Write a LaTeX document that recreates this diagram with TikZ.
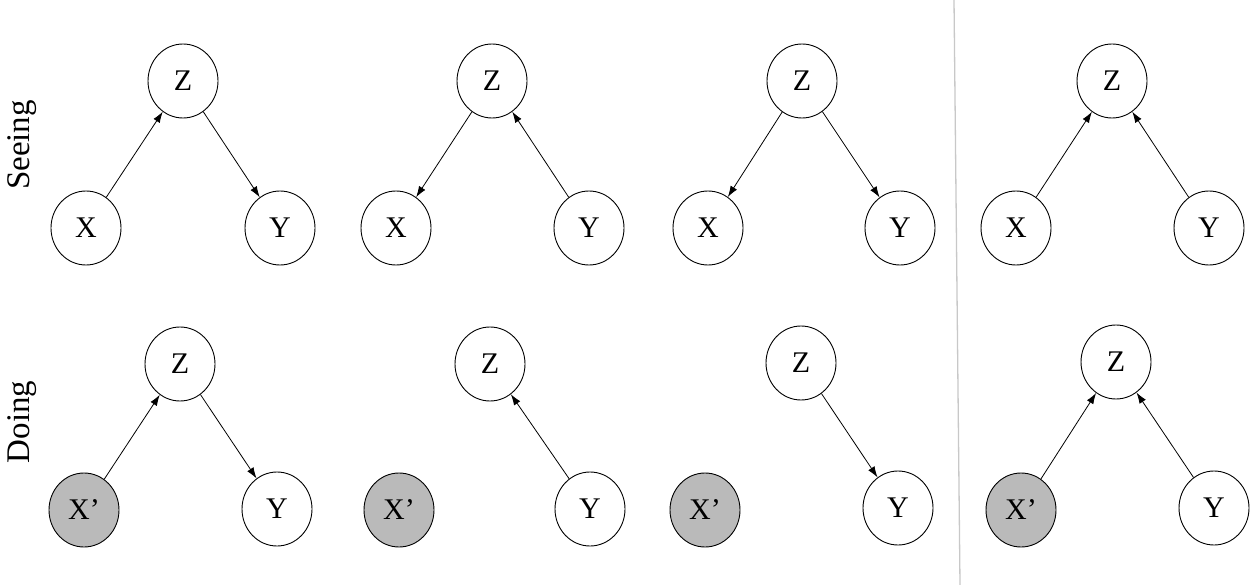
\documentclass[tikz,border=0pt]{standalone}
\usepackage{fontspec}
\setmainfont{Liberation Serif}
\usetikzlibrary{shapes.geometric,arrows.meta}
\definecolor{shade}{RGB}{186,186,186}
\definecolor{sepcol}{RGB}{200,200,200}
\begin{document}
\begin{tikzpicture}[x=1pt,y=-1pt,
  var/.style={ellipse,draw,line width=0.9pt,minimum width=70pt,minimum height=74pt,inner sep=0pt,font=\fontsize{30}{30}\selectfont},
  fixed/.style={var,fill=shade},
  edge/.style={line width=0.8pt,-{Latex[length=11pt,width=7.5pt]}},
  rowlabel/.style={rotate=90,font=\fontsize{33}{33}\selectfont},
  sepline/.style={draw=sepcol,line width=1.3pt}]
\useasboundingbox (0,0) rectangle (1260,585);

% row labels
\node[rowlabel] (seeing) at (22,145) {Seeing};
\node[rowlabel] (doing) at (22,422) {Doing};

% separator
\coordinate (s1) at (954,0);
\coordinate (s2) at (960,585);
\draw[sepline] (s1) -- (s2);

% ---- top row ----
\node[var] (z1) at (183,81) {Z};
\node[var] (x1) at (86,228) {X};
\node[var] (y1) at (280,228) {Y};
\draw[edge] (x1) -- (z1);
\draw[edge] (z1) -- (y1);

\node[var] (z2) at (492,81) {Z};
\node[var] (x2) at (396,228) {X};
\node[var] (y2) at (589,228) {Y};
\draw[edge] (z2) -- (x2);
\draw[edge] (y2) -- (z2);

\node[var] (z3) at (802,81) {Z};
\node[var] (x3) at (708,228) {X};
\node[var] (y3) at (900,228) {Y};
\draw[edge] (z3) -- (x3);
\draw[edge] (z3) -- (y3);

\node[var] (z4) at (1112,81) {Z};
\node[var] (x4) at (1016,228) {X};
\node[var] (y4) at (1209,228) {Y};
\draw[edge] (x4) -- (z4);
\draw[edge] (y4) -- (z4);

% ---- bottom row ----
\node[var] (bz1) at (180,364) {Z};
\node[fixed] (bx1) at (84,510) {X’};
\node[var] (by1) at (277,509) {Y};
\draw[edge] (bx1) -- (bz1);
\draw[edge] (bz1) -- (by1);

\node[var] (bz2) at (490,364) {Z};
\node[fixed] (bx2) at (399,510) {X’};
\node[var] (by2) at (590,509) {Y};
\draw[edge] (by2) -- (bz2);

\node[var] (bz3) at (801,363) {Z};
\node[fixed] (bx3) at (705,510) {X’};
\node[var] (by3) at (898,508) {Y};
\draw[edge] (bz3) -- (by3);

\node[var] (bz4) at (1116,362) {Z};
\node[fixed] (bx4) at (1021,510) {X’};
\node[var] (by4) at (1214,508) {Y};
\draw[edge] (bx4) -- (bz4);
\draw[edge] (by4) -- (bz4);
\end{tikzpicture}
\end{document}
